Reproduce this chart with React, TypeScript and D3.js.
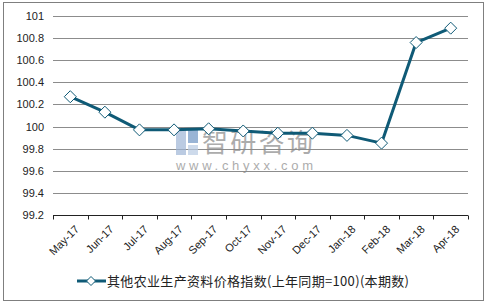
import { useEffect, useRef } from "react";
import * as d3 from "d3";

const MONTHS = ["May-17", "Jun-17", "Jul-17", "Aug-17", "Sep-17", "Oct-17", "Nov-17", "Dec-17", "Jan-18", "Feb-18", "Mar-18", "Apr-18"];
const VALUES = [100.27, 100.13, 99.97, 99.97, 99.98, 99.96, 99.94, 99.94, 99.92, 99.85, 100.76, 100.89];
const Y_TICKS = [99.2, 99.4, 99.6, 99.8, 100, 100.2, 100.4, 100.6, 100.8, 101];
const SERIES_NAME = "其他农业生产资料价格指数(上年同期=100)(本期数)";

const W = 487;
const H = 306;
const m = { top: 16, right: 19, bottom: 91, left: 53 };
const LINE = "#0f5a76";
const FONT = "'Liberation Sans', Arial, sans-serif";

export default function App() {
  const ref = useRef<SVGSVGElement | null>(null);

  useEffect(() => {
    const svg = d3.select(ref.current);
    svg.selectAll("*").remove();

    const x = d3.scaleBand<string>().domain(MONTHS).range([m.left, W - m.right]);
    const y = d3.scaleLinear().domain([99.2, 101]).range([H - m.bottom, m.top]);
    const cx = (d: string) => x(d)! + x.bandwidth() / 2;

    // frame
    svg.append("rect")
      .attr("x", 3.5).attr("y", 2.5).attr("width", W - 7).attr("height", H - 8)
      .attr("fill", "white").attr("stroke", "#7f7f7f");

    // grid + y labels
    const gy = svg.append("g")
      .attr("transform", `translate(${m.left},0)`)
      .call(d3.axisLeft(y).tickValues(Y_TICKS).tickSize(-(W - m.left - m.right)).tickPadding(9).tickFormat((d) => String(+d) as never))
      .call((s) => s.select(".domain").remove())
      .call((s) => s.selectAll("line").attr("stroke", "#8c8c8c").attr("shape-rendering", "crispEdges"))
      .call((s) => s.selectAll("text").attr("fill", "#222").attr("font-family", FONT).attr("font-size", 11));
    gy.selectAll(".tick").filter((d) => d === 99.2).select("line").remove();

    // x axis
    const base = Math.round(y(99.2)) + 0.5;
    svg.append("line")
      .attr("x1", m.left).attr("x2", W - m.right).attr("y1", base).attr("y2", base)
      .attr("stroke", "#222");
    const bounds = MONTHS.map((d) => x(d)!).concat([W - m.right]);
    svg.append("g").selectAll("line").data(bounds).join("line")
      .attr("x1", (d) => Math.round(d) + 0.5).attr("x2", (d) => Math.round(d) + 0.5)
      .attr("y1", base).attr("y2", base + 4).attr("stroke", "#222");
    svg.append("g").selectAll("text").data(MONTHS).join("text")
      .attr("transform", (d) => `translate(${cx(d) + 4},${base + 9}) rotate(-45)`)
      .attr("text-anchor", "end").attr("dy", "0.7em")
      .attr("font-family", FONT).attr("font-size", 11).attr("fill", "#222")
      .text((d) => d);

    // watermark
    const wm = svg.append("g").attr("opacity", 0.7);
    wm.append("rect").attr("x", 176).attr("y", 129).attr("width", 10).attr("height", 26).attr("fill", "#9fb6d6");
    wm.append("rect").attr("x", 188).attr("y", 129).attr("width", 10).attr("height", 14).attr("fill", "#6f95c4");
    wm.append("rect").attr("x", 188).attr("y", 145).attr("width", 10).attr("height", 10).attr("fill", "#b9cbe3");
    wm.append("text").attr("x", 202).attr("y", 152)
      .attr("font-family", "'Noto Sans CJK SC', sans-serif").attr("font-size", 26).attr("fill", "#8a8a8a")
      .attr("textLength", 111)
      .text("智研咨询");
    wm.append("text").attr("x", 176).attr("y", 170)
      .attr("font-family", FONT).attr("font-size", 13).attr("fill", "#8a8a8a")
      .attr("textLength", 137)
      .text("www.chyxx.com");

    // series
    const line = d3.line<number>().x((_, i) => cx(MONTHS[i])).y((d) => y(d));
    svg.append("path").attr("d", line(VALUES)!)
      .attr("fill", "none").attr("stroke", LINE).attr("stroke-width", 3).attr("stroke-linejoin", "round");

    const diamond = (r: number) => `M0,${-r}L${r},0L0,${r}L${-r},0Z`;
    svg.append("g").selectAll("path").data(VALUES).join("path")
      .attr("transform", (d, i) => `translate(${cx(MONTHS[i])},${y(d)})`)
      .attr("d", diamond(6))
      .attr("fill", "white").attr("stroke", LINE).attr("stroke-width", 1);

    // legend
    const ly = 281;
    const lg = svg.append("g");
    lg.append("line").attr("x1", 77).attr("x2", 106).attr("y1", ly).attr("y2", ly)
      .attr("stroke", LINE).attr("stroke-width", 3);
    lg.append("path").attr("transform", `translate(91,${ly})`).attr("d", diamond(4.5))
      .attr("fill", "white").attr("stroke", LINE);
    lg.append("text").attr("x", 107).attr("y", ly).attr("dy", "0.35em")
      .attr("font-family", "'Noto Sans CJK SC', " + FONT).attr("font-size", 13).attr("fill", "#222")
      .attr("textLength", 302)
      .text(SERIES_NAME);
  }, []);

  return <svg ref={ref} width={W} height={H} style={{ display: "block", position: "fixed", left: 0, top: 0 }} />;
}
